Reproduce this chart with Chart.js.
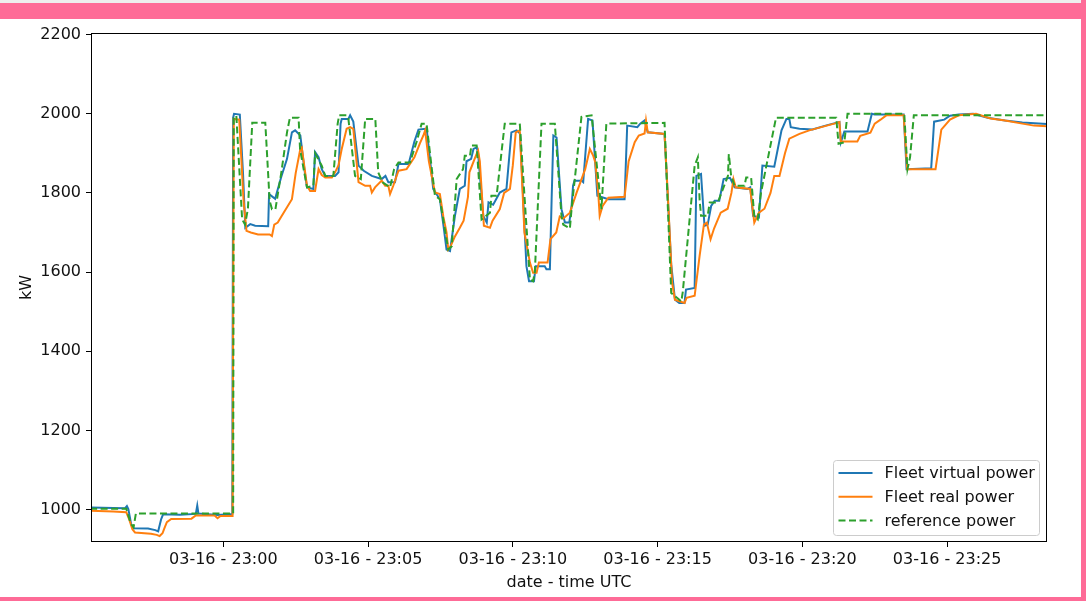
<!DOCTYPE html>
<html>
<head>
<meta charset="utf-8">
<script src="https://cdn.jsdelivr.net/npm/chart.js@4.4.1/dist/chart.umd.min.js"></script>
<style>
    html, body { margin: 0; padding: 0; background: #fff; }
    #wrap { position: relative; width: 1086px; height: 601px; overflow: hidden; background: #fff; }
    #fleet-chart { position: absolute; left: 0; top: 0; width: 1086px; height: 601px; }
    .frame { position: absolute; background: #fe6b97; }
</style>
</head>
<body>
<div id="wrap">
    <canvas id="fleet-chart" width="1086" height="601"></canvas>
    <div class="frame" style="left:0;top:0;width:1086px;height:3px;background:#eeeeee"></div>
    <div class="frame" style="left:0;top:3px;width:1086px;height:16px"></div>
    <div class="frame" style="left:1081px;top:0;width:5px;height:601px"></div>
    <div class="frame" style="left:0;top:597px;width:1086px;height:4px"></div>
</div>
<script>
// Minutes relative to 03-16 23:00 UTC
var xTickMinutes = [0, 5, 10, 15, 20, 25];
var xTickLabels = ['03-16 - 23:00', '03-16 - 23:05', '03-16 - 23:10', '03-16 - 23:15', '03-16 - 23:20', '03-16 - 23:25'];
var yTickValues = [1000, 1200, 1400, 1600, 1800, 2000, 2200];

// Fleet virtual power (kW)
var virtualMin = [-4.6, -3.8, -3.4, -3.33, -3.28, -3.18, -3.1, -2.6, -2.35, -2.25, -2.15, -2.08, -1.5, -0.95, -0.9, -0.86, -0.2, 0.31, 0.34, 0.37,
    0.57, 0.68, 0.76, 0.93, 1.1, 1.55, 1.58, 1.79, 2.0, 2.2, 2.37, 2.48, 2.66, 2.8, 2.89, 3.11, 3.17, 3.29, 3.4, 3.52,
    3.86, 3.98, 4.05, 4.09, 4.32, 4.38, 4.49, 4.67, 4.85, 5.13, 5.47, 5.6, 5.7, 5.93, 6.05, 6.4, 6.6, 6.74, 6.98, 7.03,
    7.25, 7.48, 7.6, 7.71, 7.83, 8.0, 8.17, 8.34, 8.4, 8.56, 8.64, 8.75, 8.8, 8.98, 9.1, 9.16, 9.32, 9.55, 9.78, 9.95,
    10.13, 10.25, 10.47, 10.56, 10.73, 10.79, 11.1, 11.16, 11.28, 11.34, 11.4, 11.51, 11.68, 11.8, 11.95, 12.03, 12.08, 12.13, 12.37, 12.43,
    12.6, 12.75, 12.92, 13.3, 13.86, 13.95, 14.3, 14.4, 14.55, 14.66, 15.24, 15.47, 15.6, 15.75, 15.93, 15.98, 16.28, 16.34, 16.5, 16.62,
    16.73, 16.85, 16.97, 17.13, 17.28, 17.5, 17.66, 18.1, 18.2, 18.3, 18.5, 18.62, 19.03, 19.28, 19.45, 19.55, 19.6, 19.9, 20.35, 20.8,
    21.28, 21.33, 21.45, 22.25, 22.4, 22.5, 23.5, 23.6, 24.45, 24.55, 24.9, 25.1, 25.4, 25.9, 26.4, 27.0, 27.6, 28.5];
var virtualKW = [1005, 1004, 1003, 1009, 1001, 962, 953, 952, 948, 945, 975, 988, 987, 989, 1010, 990, 986, 989, 1990, 2000,
    1998, 1850, 1712, 1721, 1717, 1716, 1797, 1785, 1840, 1886, 1953, 1958, 1945, 1860, 1814, 1810, 1903, 1890, 1860, 1843,
    1843, 1852, 1975, 1987, 1987, 1996, 1980, 1869, 1856, 1843, 1835, 1843, 1827, 1827, 1873, 1873, 1930, 1960, 1962, 1958,
    1810, 1784, 1720, 1657, 1653, 1742, 1810, 1818, 1880, 1886, 1911, 1915, 1900, 1742, 1725, 1776, 1770, 1801, 1810, 1953,
    1958, 1950, 1615, 1577, 1577, 1615, 1615, 1607, 1607, 1784, 1945, 1940, 1759, 1725, 1725, 1767, 1818, 1831, 1831, 1827,
    1987, 1983, 1793, 1784, 1784, 1970, 1966, 1975, 1983, 1953, 1949, 1620, 1530, 1522, 1522, 1556, 1560, 1843, 1848, 1717,
    1720, 1767, 1780, 1780, 1835, 1838, 1814, 1810, 1814, 1742, 1738, 1869, 1866, 1958, 1987, 1987, 1966, 1962, 1960, 1970,
    1979, 1928, 1955, 1955, 2000, 1998, 1998, 1860, 1862, 1980, 1985, 1995, 1998, 2000, 1990, 1983, 1978, 1974];

// Fleet real power (kW)
var realMin = [-4.6, -3.8, -3.35, -3.25, -3.14, -3.05, -2.5, -2.3, -2.2, -2.1, -2.05, -1.95, -1.8, -1.1, -0.95, -0.3, -0.2, -0.1, 0.32, 0.36,
    0.55, 0.7, 0.8, 0.95, 1.2, 1.6, 1.68, 1.76, 1.88, 2.0, 2.37, 2.5, 2.66, 2.71, 2.89, 3.0, 3.17, 3.29, 3.4, 3.52,
    3.75, 3.86, 3.98, 4.09, 4.26, 4.38, 4.49, 4.67, 4.9, 5.07, 5.13, 5.24, 5.47, 5.59, 5.7, 5.76, 5.87, 6.05, 6.33, 6.6,
    6.79, 6.91, 6.97, 7.1, 7.31, 7.48, 7.6, 7.71, 7.77, 7.85, 8.0, 8.17, 8.3, 8.45, 8.5, 8.7, 8.8, 8.86, 9.0, 9.21,
    9.3, 9.55, 9.7, 9.9, 10.0, 10.1, 10.24, 10.4, 10.59, 10.7, 10.82, 10.9, 11.2, 11.3, 11.5, 11.62, 11.74, 11.97, 12.2, 12.5,
    12.66, 12.77, 12.85, 12.95, 13.0, 13.1, 13.3, 13.86, 14.0, 14.21, 14.35, 14.55, 14.6, 14.66, 15.24, 15.35, 15.5, 15.6, 15.93, 16.0,
    16.28, 16.45, 16.6, 16.7, 16.83, 16.95, 17.18, 17.42, 17.55, 17.62, 17.7, 18.2, 18.34, 18.5, 18.69, 18.9, 19.03, 19.21, 19.4, 19.55,
    19.9, 20.24, 20.59, 21.1, 21.28, 21.33, 21.9, 22.0, 22.35, 22.5, 22.7, 22.9, 23.5, 23.62, 24.6, 24.8, 25.1, 25.4, 26.0, 26.5,
    27.0, 27.6, 28.0, 28.5];
var realKW = [997, 995, 993, 975, 950, 942, 939, 936, 933, 940, 950, 968, 976, 977, 985, 985, 978, 984, 984, 1987,
    1985, 1780, 1704, 1700, 1695, 1695, 1691, 1720, 1725, 1740, 1784, 1850, 1911, 1915, 1818, 1805, 1805, 1860, 1845, 1839,
    1839, 1852, 1870, 1911, 1962, 1966, 1962, 1827, 1818, 1818, 1801, 1814, 1831, 1818, 1818, 1797, 1818, 1856, 1860, 1890,
    1925, 1945, 1958, 1880, 1801, 1797, 1740, 1700, 1657, 1665, 1690, 1712, 1730, 1790, 1852, 1890, 1907, 1880, 1717, 1712,
    1730, 1759, 1800, 1810, 1870, 1953, 1958, 1700, 1624, 1598, 1598, 1624, 1624, 1683, 1700, 1740, 1735, 1750, 1800, 1860,
    1911, 1895, 1877, 1800, 1742, 1767, 1788, 1790, 1880, 1928, 1945, 1950, 1983, 1953, 1949, 1800, 1573, 1530, 1522, 1535,
    1540, 1640, 1720, 1725, 1683, 1710, 1750, 1760, 1800, 1835, 1814, 1810, 1725, 1750, 1760, 1800, 1843, 1843, 1900, 1937,
    1949, 1958, 1965, 1975, 1979, 1930, 1930, 1944, 1952, 1975, 1985, 1996, 1996, 1860, 1860, 1960, 1985, 1996, 2000, 1988,
    1983, 1975, 1970, 1968];

// Reference power (kW)
var refMin = [-4.6, -3.35, -3.2, -3.1, -3.02, 0.34, 0.36, 0.45, 0.65, 0.75, 0.85, 1.0, 1.45, 1.6, 1.68, 1.8, 2.0, 2.2, 2.3, 2.6,
    2.65, 2.75, 2.89, 3.11, 3.17, 3.4, 3.52, 3.8, 3.95, 4.0, 4.26, 4.32, 4.55, 4.75, 4.9, 5.25, 5.35, 5.5, 5.76, 5.9,
    6.05, 6.45, 6.68, 6.85, 7.02, 7.31, 7.48, 7.77, 7.89, 8.06, 8.28, 8.34, 8.52, 8.57, 8.75, 8.92, 9.21, 9.26, 9.44, 9.72,
    10.24, 10.59, 10.7, 10.76, 10.99, 11.45, 11.68, 11.74, 11.97, 12.03, 12.37, 12.72, 13.06, 13.23, 15.24, 15.47, 15.82, 15.87, 16.28, 16.39,
    16.45, 16.5, 16.73, 16.8, 17.08, 17.43, 17.46, 17.54, 17.66, 18.0, 18.06, 18.23, 18.34, 18.46, 18.57, 19.09, 21.17, 21.25, 21.45, 21.56,
    23.52, 23.63, 23.72, 23.85, 28.5];
var refKW = [1002, 1002, 965, 955, 990, 990, 1990, 1995, 1733, 1720, 1760, 1977, 1977, 1780, 1759, 1759, 1850, 1953, 1990, 1990,
    1911, 1870, 1814, 1818, 1900, 1869, 1843, 1843, 1975, 1996, 1996, 1987, 1843, 1835, 1987, 1987, 1852, 1827, 1814, 1860,
    1877, 1877, 1930, 1975, 1975, 1793, 1784, 1657, 1665, 1835, 1860, 1894, 1894, 1920, 1920, 1733, 1750, 1793, 1793, 1975,
    1975, 1581, 1577, 1600, 1975, 1975, 1742, 1720, 1710, 1760, 1992, 1996, 1759, 1975, 1977, 1547, 1526, 1550, 1869, 1890,
    1784, 1742, 1742, 1776, 1776, 1843, 1898, 1843, 1818, 1818, 1839, 1839, 1742, 1733, 1800, 1990, 1990, 1924, 1928, 2000,
    2000, 1860, 1890, 1996, 1996];

var fontFamily = '"DejaVu Sans", sans-serif';
var fontSize = 16;
var textColor = '#111111';

/**
 * Build {x, y} points for a linear x scale
 *
 * @param {*} minutes
 * @param {*} values
 */
function toPoints(minutes, values) {
    return minutes.map(function (m, i) {
        return { x: m, y: values[i] };
    });
}

// Draw the four spines round the plot area
var axesFrame = {
    id: 'axesFrame',
    afterDatasetsDraw: function (chart) {
        var ctx = chart.ctx;
        var area = chart.chartArea;
        ctx.save();
        ctx.strokeStyle = '#000000';
        ctx.lineWidth = 1;
        ctx.strokeRect(Math.round(area.left) + 0.5, Math.round(area.top) + 0.5,
            Math.round(area.right - area.left) - 1, Math.round(area.bottom - area.top) - 1);
        ctx.restore();
    }
};

// Legend in the lower right corner of the plot area
var legendBox = {
    id: 'legendBox',
    afterDatasetsDraw: function (chart) {
        var ctx = chart.ctx;
        var area = chart.chartArea;
        var width = 206;
        var height = 75;
        var left = Math.round(area.right - 8 - width) + 0.5;
        var top = Math.round(area.bottom - 7 - height) + 0.5;

        ctx.save();
        ctx.beginPath();
        ctx.roundRect(left, top, width, height, 3);
        ctx.fillStyle = 'rgba(255,255,255,0.8)';
        ctx.fill();
        ctx.strokeStyle = '#cccccc';
        ctx.lineWidth = 1;
        ctx.stroke();

        ctx.font = fontSize + 'px ' + fontFamily;
        ctx.textBaseline = 'middle';
        ctx.textAlign = 'left';
        chart.data.datasets.forEach(function (ds, i) {
            var y = top + 12.5 + i * 23.7;
            ctx.beginPath();
            ctx.setLineDash(ds.borderDash || []);
            ctx.moveTo(left + 5, y);
            ctx.lineTo(left + 39, y);
            ctx.strokeStyle = ds.borderColor;
            ctx.lineWidth = ds.borderWidth;
            ctx.stroke();
            ctx.setLineDash([]);
            ctx.fillStyle = textColor;
            ctx.fillText(ds.label, left + 51, y + 1);
        });
        ctx.restore();
    }
};

new Chart(document.getElementById('fleet-chart').getContext('2d'), {
    type: 'line',
    data: {
        datasets: [{
            label: 'Fleet virtual power',
            data: toPoints(virtualMin, virtualKW),
            borderColor: '#1f77b4',
            borderWidth: 2,
            pointRadius: 0,
            fill: false,
            order: 3
        }, {
            label: 'Fleet real power',
            data: toPoints(realMin, realKW),
            borderColor: '#ff7f0e',
            borderWidth: 2,
            pointRadius: 0,
            fill: false,
            order: 2
        }, {
            label: 'reference power',
            data: toPoints(refMin, refKW),
            borderColor: '#2ca02c',
            borderWidth: 2,
            borderDash: [7, 3.5],
            pointRadius: 0,
            fill: false,
            order: 1
        }]
    },
    options: {
        responsive: false,
        animation: false,
        layout: {
            padding: { left: 0, right: 39, top: 33, bottom: 0 }
        },
        plugins: {
            legend: { display: false },
            tooltip: { enabled: false }
        },
        scales: {
            x: {
                type: 'linear',
                min: -4.57,
                max: 28.45,
                afterBuildTicks: function (axis) {
                    axis.ticks = xTickMinutes.map(function (v) { return { value: v }; });
                },
                afterFit: function (axis) {
                    axis.height = 59;
                },
                ticks: {
                    autoSkip: false,
                    maxRotation: 0,
                    padding: 3,
                    color: textColor,
                    font: { family: fontFamily, size: fontSize },
                    callback: function (value, index) {
                        return xTickLabels[index];
                    }
                },
                grid: {
                    display: true,
                    drawOnChartArea: false,
                    drawTicks: true,
                    tickLength: 5,
                    color: '#000000'
                },
                border: { display: false },
                title: {
                    display: true,
                    text: 'date - time UTC',
                    color: textColor,
                    font: { family: fontFamily, size: fontSize },
                    padding: { top: 0, bottom: 9 }
                }
            },
            y: {
                type: 'linear',
                min: 918,
                max: 2204,
                afterBuildTicks: function (axis) {
                    axis.ticks = yTickValues.map(function (v) { return { value: v }; });
                },
                afterFit: function (axis) {
                    axis.width = 91;
                },
                ticks: {
                    padding: 5,
                    color: textColor,
                    font: { family: fontFamily, size: fontSize },
                    callback: function (value) {
                        return String(value);
                    }
                },
                grid: {
                    display: true,
                    drawOnChartArea: false,
                    drawTicks: true,
                    tickLength: 5,
                    color: '#000000'
                },
                border: { display: false },
                title: {
                    display: true,
                    text: 'kW',
                    color: textColor,
                    font: { family: fontFamily, size: fontSize },
                    padding: { top: 17, bottom: 0 }
                }
            }
        }
    },
    plugins: [axesFrame, legendBox]
});
</script>
</body>
</html>
